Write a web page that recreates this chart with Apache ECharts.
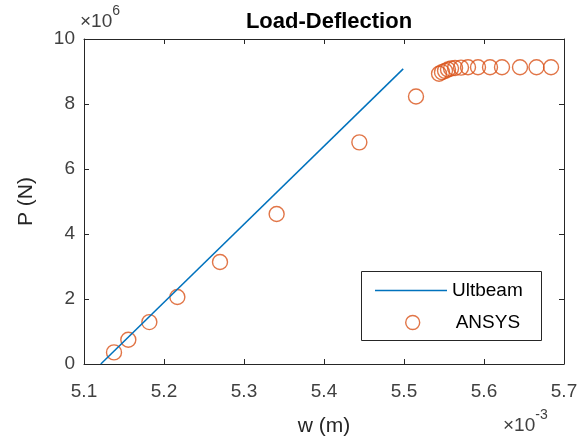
<!DOCTYPE html>
<html>
<head>
<meta charset="utf-8">
<script src="https://cdn.jsdelivr.net/npm/echarts@6/dist/echarts.min.js"></script>
<style>
html,body{margin:0;padding:0;background:#fff;}
#c{width:586px;height:445px;}
</style>
</head>
<body>
<div id="c"></div>
<script>
// Data (x in units of 1e-3 m, y in units of 1e6 N)
const ultbeamX = [5.121, 5.499];
const ultbeamY = [0, 9.08];
const ansysX = [5.1375, 5.1554, 5.1817, 5.2167, 5.27, 5.3408, 5.4442, 5.515,
  5.5438, 5.5475, 5.5513, 5.555, 5.5588, 5.5638, 5.5713, 5.58, 5.5925, 5.6075, 5.6225, 5.645, 5.6656, 5.6838];
const ansysY = [0.357, 0.748, 1.29, 2.06, 3.14, 4.615, 6.82, 8.23,
  8.93, 8.98, 9.02, 9.06, 9.09, 9.11, 9.12, 9.13, 9.13, 9.13, 9.13, 9.13, 9.13, 9.13];
const xTicks = ['5.1','5.2','5.3','5.4','5.5','5.6','5.7'];
const yTicks = ['0','2','4','6','8','10'];
const seriesNames = ['Ultbeam', 'ANSYS'];

const FONT = "'Liberation Sans', Arial, sans-serif";
const AX = '#262626';
const chart = echarts.init(document.getElementById('c'), null, {renderer: 'canvas'});

const tickCommon = {show: true, inside: true, length: 5, lineStyle: {color: AX, width: 1}};
const option = {
  animation: false,
  backgroundColor: '#fff',
  title: {
    text: 'Load-Deflection',
    left: 324, top: 6, textAlign: 'center',
    textStyle: {fontFamily: FONT, fontSize: 22, fontWeight: 'bold', color: '#000'}
  },
  grid: {left: 84, right: 22, top: 39, bottom: 81, containLabel: false},
  xAxis: [{
    type: 'value', min: 5.1, max: 5.7, interval: 0.1, position: 'bottom',
    name: 'w (m)', nameLocation: 'middle', nameGap: 52,
    nameTextStyle: {fontFamily: FONT, fontSize: 21, color: AX},
    axisLine: {show: true, onZero: false, lineStyle: {color: AX, width: 1}},
    axisTick: tickCommon,
    axisLabel: {fontFamily: FONT, fontSize: 19, color: '#404040', margin: 18,
      formatter: (v) => xTicks[Math.round((v - 5.1) * 10)] || ''},
    splitLine: {show: false}
  }, {
    type: 'value', min: 5.1, max: 5.7, interval: 0.1, position: 'top',
    axisLine: {show: true, onZero: false, lineStyle: {color: AX, width: 1}},
    axisTick: tickCommon, axisLabel: {show: false}, splitLine: {show: false}
  }],
  yAxis: [{
    type: 'value', min: 0, max: 10, interval: 2, position: 'left',
    name: 'P (N)', nameLocation: 'middle', nameGap: 47, nameRotate: 90,
    nameTextStyle: {fontFamily: FONT, fontSize: 21, color: AX},
    axisLine: {show: true, onZero: false, lineStyle: {color: AX, width: 1}},
    axisTick: tickCommon,
    axisLabel: {fontFamily: FONT, fontSize: 19, color: '#404040', margin: 9,
      formatter: (v) => yTicks[Math.round(v / 2)] || ''},
    splitLine: {show: false}
  }, {
    type: 'value', min: 0, max: 10, interval: 2, position: 'right',
    axisLine: {show: true, onZero: false, lineStyle: {color: AX, width: 1}},
    axisTick: tickCommon, axisLabel: {show: false}, splitLine: {show: false}
  }],
  legend: [{
    data: [{name: seriesNames[0], icon: 'rect'}], orient: 'vertical', left: 375, top: 281,
    itemWidth: 72, itemHeight: 1.5, itemGap: 8, padding: 0,
    textStyle: {fontFamily: FONT, fontSize: 19, color: '#000'}
  }, {
    data: [{name: seriesNames[1], icon: 'circle'}], orient: 'vertical', left: 405, top: 313,
    itemWidth: 14, itemHeight: 14, itemGap: 36, padding: 0,
    itemStyle: {color: 'rgba(0,0,0,0)', borderColor: '#D95319', borderWidth: 1.4},
    textStyle: {fontFamily: FONT, fontSize: 19, color: '#000', padding: [0,0,0,31]}
  }],
  graphic: [
    {type: 'rect', shape: {x: 361.5, y: 271.5, width: 180, height: 69},
      style: {fill: 'transparent', stroke: '#262626', lineWidth: 1}, z: 1},
    {type: 'text', left: 80, top: 4,
      style: {text: '{a|×10}{s|6}', rich: {
        a: {fontFamily: FONT, fontSize: 19, fill: '#404040', padding: [8,0,0,0]},
        s: {fontFamily: FONT, fontSize: 14, fill: '#404040', verticalAlign: 'top'}
      }}},
    {type: 'text', left: 503, top: 408,
      style: {text: '{a|×10}{s|-3}', rich: {
        a: {fontFamily: FONT, fontSize: 19, fill: '#404040', padding: [8,0,0,0]},
        s: {fontFamily: FONT, fontSize: 14, fill: '#404040', verticalAlign: 'top'}
      }}}
  ],
  series: [{
    name: seriesNames[0], type: 'line', xAxisIndex: 0, yAxisIndex: 0,
    data: ultbeamX.map((x, i) => [x, ultbeamY[i]]),
    symbol: 'none', showSymbol: false,
    lineStyle: {color: '#0072BD', width: 1.5}, itemStyle: {color: '#0072BD'}
  }, {
    name: seriesNames[1], type: 'scatter', xAxisIndex: 0, yAxisIndex: 0,
    data: ansysX.map((x, i) => [x, ansysY[i]]),
    symbol: 'circle', symbolSize: 15,
    itemStyle: {color: 'rgba(0,0,0,0)', borderColor: '#D95319', borderWidth: 1.4}
  }]
};
chart.setOption(option);
</script>
</body>
</html>
